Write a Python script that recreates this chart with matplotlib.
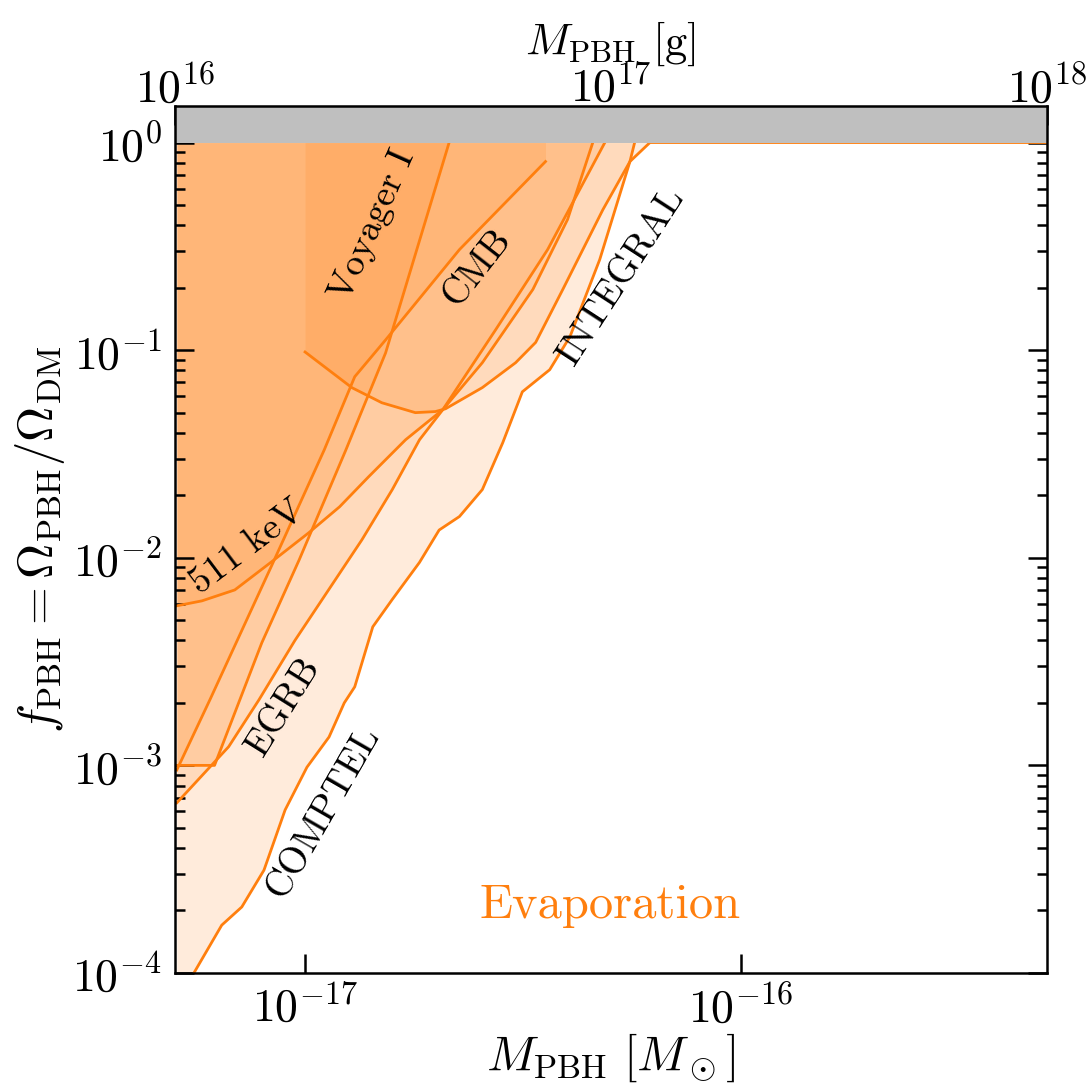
import numpy as np
import matplotlib.pyplot as plt

plt.rcParams['mathtext.fontset'] = 'cm'
plt.rcParams['font.family'] = 'serif'
plt.rcParams['font.serif'] = ['cmr10']
plt.rcParams['axes.formatter.use_mathtext'] = True

MSUN_G = 1.989e33

# masa [M_sun], f_PBH
voyager_m = [5.08e-18, 6.2e-18, 7.96e-18, 9.7e-18, 1.24e-17, 1.53e-17, 2.14e-17]
voyager_f = [1.0e-3, 1.0e-3, 3.9e-3, 9.8e-3, 0.033, 0.097, 1.0]

cmb_m = [5.08e-18, 6.05e-18, 8.4e-18, 1.106e-17, 1.30e-17, 1.53e-17, 2.26e-17, 3.56e-17]
cmb_f = [9.5e-4, 2.07e-3, 9.25e-3, 0.033, 0.0745, 0.112, 0.305, 0.81]

kev_m = [5.08e-18, 5.8e-18, 6.9e-18, 8.4e-18, 1.02e-17, 1.20e-17, 1.40e-17, 1.70e-17,
         2.07e-17, 2.55e-17, 3.33e-17, 4.0e-17, 4.57e-17]
kev_f = [5.87e-3, 6.2e-3, 7.0e-3, 9.6e-3, 0.0132, 0.0176, 0.0246, 0.037,
         0.0517, 0.087, 0.196, 0.426, 1.0]

egrb_m = [5.08e-18, 6.68e-18, 7.84e-18, 9.48e-18, 1.35e-17, 1.585e-17, 1.83e-17,
          2.07e-17, 2.74e-17, 3.6e-17, 4.87e-17]
egrb_f = [6.6e-4, 1.23e-3, 2.07e-3, 4.0e-3, 0.0122, 0.0213, 0.037,
          0.0517, 0.126, 0.305, 1.0]

comptel_m = [5.08e-18, 5.56e-18, 6.44e-18, 7.16e-18, 8.05e-18, 9.0e-18, 1.01e-17, 1.135e-17,
             1.23e-17, 1.30e-17, 1.43e-17, 1.585e-17, 1.83e-17, 2.03e-17, 2.26e-17,
             2.55e-17, 2.84e-17, 3.15e-17, 3.64e-17, 4.05e-17, 4.74e-17, 5.56e-17, 5.70e-17]
comptel_f = [6.9e-5, 1.0e-4, 1.70e-4, 2.08e-4, 3.13e-4, 6.1e-4, 9.8e-4, 1.37e-3,
             2.0e-3, 2.39e-3, 4.65e-3, 6.3e-3, 9.5e-3, 0.0136, 0.0158,
             0.0213, 0.0358, 0.063, 0.0805, 0.116, 0.273, 0.81, 1.0]

integral_m = [1.0e-17, 1.28e-17, 1.50e-17, 1.79e-17, 1.99e-17, 2.10e-17, 2.55e-17,
              3.04e-17, 3.38e-17, 3.90e-17, 4.82e-17, 5.56e-17, 6.18e-17, 5.13e-16]
integral_f = [0.098, 0.066, 0.0558, 0.05, 0.0506, 0.0522, 0.066,
              0.087, 0.109, 0.196, 0.475, 0.81, 1.0, 1.0]

bounds = [(voyager_m, voyager_f), (cmb_m, cmb_f), (kev_m, kev_f),
          (egrb_m, egrb_f), (comptel_m, comptel_f), (integral_m, integral_f)]

# napisy: tekst, x, y, kat
labels = [("Voyager I", 1.43e-17, 0.40, 66),
          ("CMB", 2.48e-17, 0.25, 52),
          ("511 keV", 7.36e-18, 0.0112, 37),
          ("EGRB", 8.95e-18, 1.91e-3, 58),
          ("COMPTEL", 1.10e-17, 6.0e-4, 60),
          ("INTEGRAL", 5.3e-17, 0.225, 57)]

xmin, xmax = 1e16 / MSUN_G, 1e18 / MSUN_G

fig = plt.figure(figsize=(10.86, 10.88), dpi=100)
ax = fig.add_axes([0.161, 0.1057, 0.803, 0.7969])
ax.set_xscale('log')
ax.set_yscale('log')

for m, f in bounds:
    ax.fill_between(m, f, 1.0, color='C1', alpha=0.15, lw=0)
    ax.plot(m, f, color='C1', lw=2)

ax.fill_between([xmin, xmax], 1.0, 1.5, color='#bfbfbf', zorder=5, lw=0)

for txt, x, y, rot in labels:
    ax.text(x, y, txt, rotation=rot, fontsize=27, ha='center', va='center',
            rotation_mode='anchor')

ax.text(5.0e-17, 2.1e-4, "Evaporation", color='C1', fontsize=35, ha='center', va='center')

ax.set_xlim(xmin, xmax)
ax.set_ylim(1e-4, 1.5)
ax.set_xlabel(r'$M_{\rm PBH}\ [M_\odot]$', fontsize=35, labelpad=0)
ax.set_ylabel(r'$f_{\rm PBH} = \Omega_{\rm PBH}/\Omega_{\rm DM}$', fontsize=35, labelpad=4)

ax.set_xticks([1e-17, 1e-16])
ax.xaxis.set_minor_locator(plt.NullLocator())
ax.tick_params(axis='both', which='major', direction='in', length=14, width=1.8,
               labelsize=33, pad=9)
ax.tick_params(axis='y', which='both', right=True)
ax.tick_params(axis='y', which='minor', direction='in', length=7, width=1.8)
for s in ax.spines.values():
    s.set_linewidth(1.8)
    s.set_zorder(10)

top = ax.secondary_xaxis('top', functions=(lambda m: m * MSUN_G, lambda g: g / MSUN_G))
top.set_xticks([1e16, 1e17, 1e18])
top.xaxis.set_minor_locator(plt.NullLocator())
top.tick_params(direction='in', length=14, width=1.8, labelsize=33, pad=-4)
top.set_xlabel(r'$M_{\rm PBH}$ [g]', fontsize=32, labelpad=8)

plt.savefig("out.png")
plt.close()
